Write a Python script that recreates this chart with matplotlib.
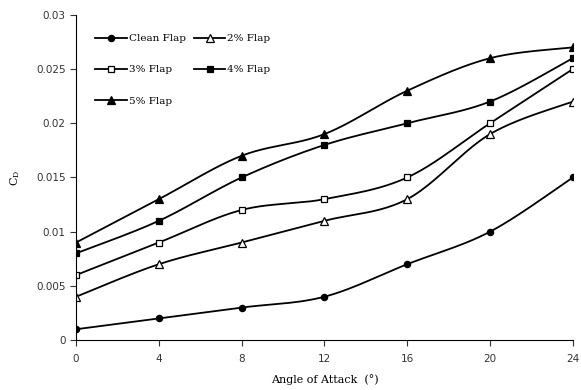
import numpy as np
import matplotlib
matplotlib.use("Agg")
import matplotlib.pyplot as plt

angles = [0, 4, 8, 12, 16, 20, 24]
clean = [0.001, 0.002, 0.003, 0.004, 0.007, 0.010, 0.015]
flap2 = [0.004, 0.007, 0.009, 0.011, 0.013, 0.019, 0.022]
flap3 = [0.006, 0.009, 0.012, 0.013, 0.015, 0.020, 0.025]
flap4 = [0.008, 0.011, 0.015, 0.018, 0.020, 0.022, 0.026]
flap5 = [0.009, 0.013, 0.017, 0.019, 0.023, 0.026, 0.027]
labels = ["Clean Flap", "2% Flap", "3% Flap", "4% Flap", "5% Flap"]


def smooth(x, y, n=24, k=1.0):
    x = np.asarray(x, float); y = np.asarray(y, float)
    px = np.concatenate([[x[0]], x, [x[-1]]])
    py = np.concatenate([[y[0]], y, [y[-1]]])
    xs, ys = [], []
    for i in range(1, len(px)-2):
        t = np.linspace(0, 1, n, endpoint=False) if i < len(px)-3 else np.linspace(0, 1, n)
        for arr, out in ((px, xs), (py, ys)):
            p0, p1, p2, p3 = arr[i-1], arr[i], arr[i+1], arr[i+2]
            c1 = p1 + k*(p2-p0)/6.0
            c2 = p2 - k*(p3-p1)/6.0
            out.extend((1-t)**3*p1 + 3*(1-t)**2*t*c1 + 3*(1-t)*t**2*c2 + t**3*p2)
    return xs, ys


fig = plt.figure(figsize=(5.81, 3.90), dpi=100)
ax = fig.add_axes([0.131, 0.128, 0.855, 0.834])

styles = [
    dict(marker='o', mfc='black', ms=4.5),
    dict(marker='^', mfc='white', ms=5.5),
    dict(marker='s', mfc='white', ms=5),
    dict(marker='s', mfc='black', ms=5),
    dict(marker='^', mfc='black', ms=5.5),
]
handles = []
for data, lab, st in zip([clean, flap2, flap3, flap4, flap5], labels, styles):
    sx, sy = smooth(angles, data)
    ax.plot(sx, sy, color='black', lw=1.3)
    ax.plot(angles, data, linestyle='none', color='black', mec='black', mew=0.9, **st)
    h, = ax.plot([], [], color='black', lw=1.3, mec='black', mew=0.9, label=lab, **st)
    handles.append(h)

ax.set_xlim(0, 24)
ax.set_ylim(0, 0.03)
ax.set_xticks(angles)
ax.set_yticks([0, 0.005, 0.01, 0.015, 0.02, 0.025, 0.03])
ax.set_yticklabels(["0", "0.005", "0.01", "0.015", "0.02", "0.025", "0.03"])
for s in ['top', 'right']:
    ax.spines[s].set_visible(False)
ax.tick_params(direction='out', length=4, labelsize=7.5, colors='#333333')
ax.tick_params(axis='x', pad=6)
ax.set_xlabel("Angle of Attack  (°)", family='DejaVu Serif', fontsize=8, labelpad=7)
ax.set_ylabel(r"C$_\mathregular{D}$", family='DejaVu Serif', fontsize=8, labelpad=10)

order = [0, 2, 4, 1, 3]
ax.legend([handles[i] for i in order], [labels[i] for i in order],
          loc='upper left', bbox_to_anchor=(0.02, 0.97), ncol=2, frameon=False,
          prop={'family': 'DejaVu Serif', 'size': 7.5}, handlelength=3,
          labelspacing=2.1, columnspacing=0.8, handletextpad=0.2)

fig.savefig("out.png", dpi=100)
